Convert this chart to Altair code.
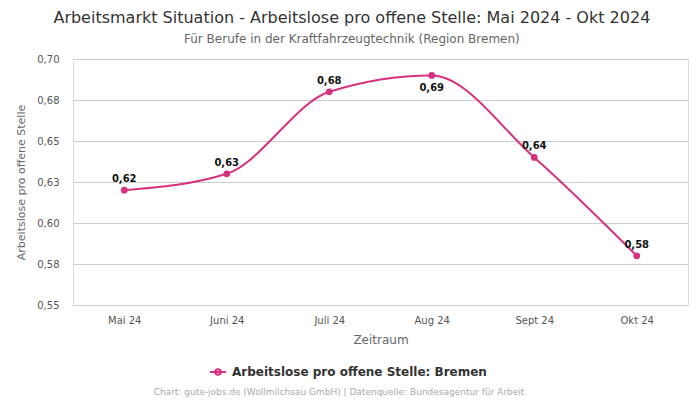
import altair as alt
import pandas as pd

months = ["Mai 24", "Juni 24", "Juli 24", "Aug 24", "Sept 24", "Okt 24"]
values = [0.620, 0.630, 0.680, 0.690, 0.640, 0.580]
series_name = "Arbeitslose pro offene Stelle: Bremen"
below_label = ["Aug 24"]
y_ticks = [0.55, 0.575, 0.6, 0.625, 0.65, 0.675, 0.7]

df = pd.DataFrame({"Monat": months, "Wert": values, "Serie": series_name})

COLOR = "#d6307f"
FONT = "DejaVu Sans"

x = alt.X("Monat:N", sort=months, title="Zeitraum",
          scale=alt.Scale(type="point", padding=0.5),
          axis=alt.Axis(labelAngle=0, grid=False, domain=False, ticks=False,
                        labelPadding=10, titlePadding=9, labelColor="#555",
                        titleColor="#666", labelFontSize=10, titleFontSize=12,
                        labelFont=FONT, titleFont=FONT, titleFontWeight="normal"))
y = alt.Y("Wert:Q", title="Arbeitslose pro offene Stelle",
          scale=alt.Scale(domain=[0.55, 0.70], nice=False, zero=False),
          axis=alt.Axis(values=y_ticks,
                        labelExpr="replace(format(datum.value + 0.0001, '.2f'), '.', ',')",
                        domain=False, ticks=False, gridColor="#cccccc",
                        labelPadding=14, titlePadding=10, labelColor="#555",
                        titleColor="#666", labelFontSize=10, titleFontSize=11,
                        labelFont=FONT, titleFont=FONT, titleFontWeight="normal"))

base = alt.Chart(df)

line = base.mark_line(interpolate="monotone", strokeWidth=2).encode(
    x=x, y=y,
    color=alt.Color("Serie:N", scale=alt.Scale(range=[COLOR]),
                    legend=alt.Legend(orient="none", legendX=139, legendY=307,
                                      title=None, labelLimit=0, labelOffset=8,
                                      symbolType="M-1.6,0L1.6,0M-0.55,0A0.55,0.55 0 1,1 0.55,0A0.55,0.55 0 1,1 -0.55,0Z",
                                      symbolSize=100, symbolStrokeWidth=2,
                                      labelFontSize=12, labelFontWeight="bold",
                                      labelFont=FONT, labelColor="#333"))
)
points = base.mark_circle(size=45, opacity=1, color=COLOR).encode(x=x, y=y)

lab = base.transform_calculate(
    lbl="replace(format(datum.Wert, '.2f'), '.', ',')"
)
labels_above = lab.transform_filter(
    ~alt.FieldOneOfPredicate(field="Monat", oneOf=below_label)
).mark_text(dy=-11, fontSize=10, fontWeight="bold", font=FONT, color="#111").encode(
    x=x, y=y, text="lbl:N")
labels_below = lab.transform_filter(
    alt.FieldOneOfPredicate(field="Monat", oneOf=below_label)
).mark_text(dy=13, fontSize=10, fontWeight="bold", font=FONT, color="#111").encode(
    x=x, y=y, text="lbl:N")

footer = alt.Chart(pd.DataFrame({"t": ["Chart: gute-jobs.de (Wollmilchsau GmbH) | Datenquelle: Bundesagentur für Arbeit"]})).mark_text(
    fontSize=9, font=FONT, color="#aaaaaa", align="center"
).encode(x=alt.value(266), y=alt.value(333), text="t:N")

chart = alt.layer(line, points, labels_above, labels_below, footer).properties(
    width=615, height=246,
    padding={"left": 7, "top": 2, "right": 2, "bottom": 0},
    title=alt.TitleParams(
        text="Arbeitsmarkt Situation - Arbeitslose pro offene Stelle: Mai 2024 - Okt 2024",
        subtitle="Für Berufe in der Kraftfahrzeugtechnik (Region Bremen)",
        fontSize=16, font=FONT, fontWeight="normal", color="#333",
        subtitleFontSize=12, subtitleFont=FONT, subtitleColor="#666",
        subtitlePadding=8, offset=9, anchor="middle", frame="bounds"
    )
).configure_view(stroke=None).configure(background="white")

chart.save("out.html", embed_options={"renderer": "svg", "actions": False})
